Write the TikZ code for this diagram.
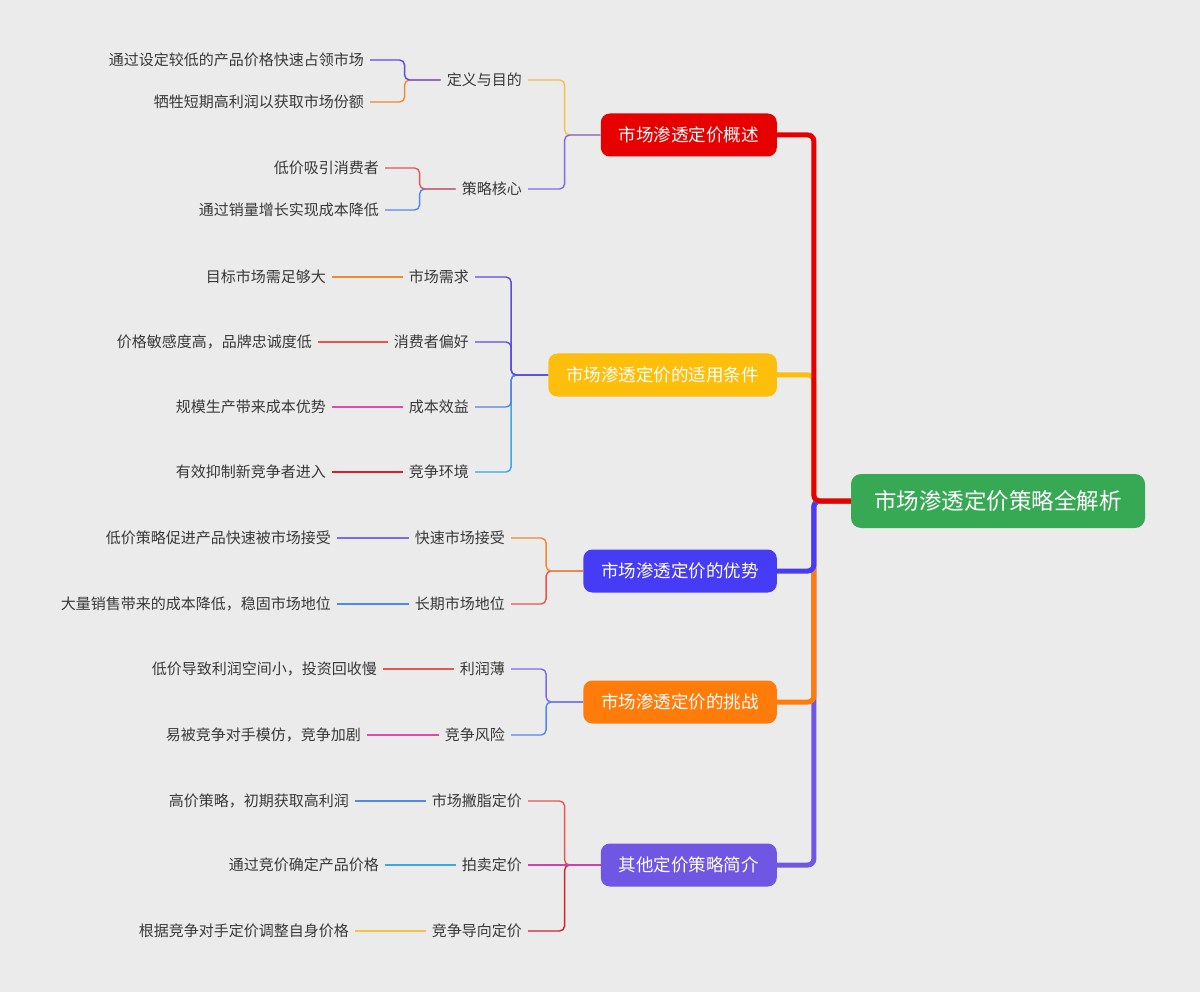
\documentclass[tikz,border=0pt]{standalone}
\usepackage{fontspec}
\setmainfont{Noto Sans CJK SC}
\definecolor{bgc}{HTML}{EBEBEB}
\definecolor{txtc}{HTML}{383838}
\definecolor{rootc}{HTML}{37A955}
\definecolor{redc}{HTML}{E70000}
\definecolor{yelc}{HTML}{FDBE0C}
\definecolor{bluec}{HTML}{473CF5}
\definecolor{orac}{HTML}{FF7C0A}
\definecolor{purc}{HTML}{6F56E3}
\definecolor{lnyel}{HTML}{F5C242}
\definecolor{lnpur}{HTML}{7B6BE8}
\definecolor{lnblu}{HTML}{5B4CE0}
\definecolor{lnora}{HTML}{F08A30}
\definecolor{lnred}{HTML}{EA5450}
\definecolor{lnsky}{HTML}{4F88F0}
\definecolor{lnmid}{HTML}{5A7FE0}
\definecolor{lncyan}{HTML}{3AA8E6}
\definecolor{lnpink}{HTML}{E04AA8}
\definecolor{lnrdk}{HTML}{D41F2A}
\definecolor{lnmag}{HTML}{D040B0}
\tikzset{
  root/.style={rounded corners=10pt, fill=rootc, text=white, font=\fontsize{22.5}{26}\selectfont, minimum width=294pt, minimum height=54pt},
  topic/.style={rounded corners=9pt, text=white, font=\fontsize{17.5}{20}\selectfont, minimum height=43pt, inner xsep=18pt, anchor=east},
  sub/.style={text=txtc, font=\fontsize{15}{18}\selectfont, inner xsep=6pt, inner ysep=2pt, anchor=east},
  trunk/.style={line width=5pt, rounded corners=6pt},
  twig/.style={line width=1.4pt, rounded corners=5pt},
}
\begin{document}
\begin{tikzpicture}[x=1pt, y=-1pt]
\fill[bgc] (0,0) rectangle (1200,992);
\useasboundingbox (0,0) rectangle (1200,992);

\node[root] (root) at (998,501) {市场渗透定价策略全解析};
\node[topic, fill=redc] (t1) at (777,135) {市场渗透定价概述};
\node[topic, fill=yelc] (t2) at (777,375) {市场渗透定价的适用条件};
\node[topic, fill=bluec] (t3) at (777,571) {市场渗透定价的优势};
\node[topic, fill=orac] (t4) at (777,702) {市场渗透定价的挑战};
\node[topic, fill=purc] (t5) at (777,865) {其他定价策略简介};

\draw[trunk, purc] (root.west) -- ++(-37,0) |- (t5.east);
\draw[trunk, orac] (root.west) -- ++(-37,0) |- (t4.east);
\draw[trunk, bluec] (root.west) -- ++(-37,0) |- (t3.east);
\draw[trunk, yelc] (root.west) -- ++(-37,0) |- (t2.east);
\draw[trunk, redc] (root.west) -- ++(-37,0) |- (t1.east);

\node[sub] (s11) at (528,80) {定义与目的};
\node[sub] (s12) at (528,189) {策略核心};
\node[sub] (l111) at (370,60) {通过设定较低的产品价格快速占领市场};
\node[sub] (l112) at (370,102) {牺牲短期高利润以获取市场份额};
\node[sub] (l121) at (385,168) {低价吸引消费者};
\node[sub] (l122) at (385,210) {通过销量增长实现成本降低};
\draw[twig, lnyel] (t1.west) -- ++(-36,0) |- (s11.east);
\draw[twig, lnpur] (t1.west) -- ++(-36,0) |- (s12.east);
\draw[twig, lnora] (s11.west) -- ++(-36,0) |- (l112.east);
\draw[twig, lnblu] (s11.west) -- ++(-36,0) |- (l111.east);
\draw[twig, lnsky] (s12.west) -- ++(-36,0) |- (l122.east);
\draw[twig, lnred] (s12.west) -- ++(-36,0) |- (l121.east);

\node[sub] (s21) at (475,277) {市场需求};
\node[sub] (s22) at (475,342) {消费者偏好};
\node[sub] (s23) at (475,407) {成本效益};
\node[sub] (s24) at (475,472) {竞争环境};
\node[sub] (l21) at (332,277) {目标市场需足够大};
\node[sub] (l22) at (318,342) {价格敏感度高，品牌忠诚度低};
\node[sub] (l23) at (332,407) {规模生产带来成本优势};
\node[sub] (l24) at (332,472) {有效抑制新竞争者进入};
\draw[twig, lncyan] (t2.west) -- ++(-37,0) |- (s24.east);
\draw[twig, lnmid] (t2.west) -- ++(-37,0) |- (s23.east);
\draw[twig, lnblu] (t2.west) -- ++(-37,0) |- (s22.east);
\draw[twig, lnblu] (t2.west) -- ++(-37,0) |- (s21.east);
\draw[twig, lnora] (l21) -- (s21);
\draw[twig, lnred] (l22) -- (s22);
\draw[twig, lnpink] (l23) -- (s23);
\draw[twig, lnrdk] (l24) -- (s24);

\node[sub] (s31) at (511,538) {快速市场接受};
\node[sub] (s32) at (511,604) {长期市场地位};
\node[sub] (l31) at (337,538) {低价策略促进产品快速被市场接受};
\node[sub] (l32) at (337,604) {大量销售带来的成本降低，稳固市场地位};
\draw[twig, lnred] (t3.west) -- ++(-37,0) |- (s32.east);
\draw[twig, lnora] (t3.west) -- ++(-37,0) |- (s31.east);
\draw[twig, lnpur] (l31) -- (s31);
\draw[twig, lnsky] (l32) -- (s32);

\node[sub] (s41) at (511,669) {利润薄};
\node[sub] (s42) at (511,735) {竞争风险};
\node[sub] (l41) at (383,669) {低价导致利润空间小，投资回收慢};
\node[sub] (l42) at (367,735) {易被竞争对手模仿，竞争加剧};
\draw[twig, lnsky] (t4.west) -- ++(-37,0) |- (s42.east);
\draw[twig, lnpur] (t4.west) -- ++(-37,0) |- (s41.east);
\draw[twig, lnred] (l41) -- (s41);
\draw[twig, lnpink] (l42) -- (s42);

\node[sub] (s51) at (528,801) {市场撇脂定价};
\node[sub] (s52) at (528,865) {拍卖定价};
\node[sub] (s53) at (528,931) {竞争导向定价};
\node[sub] (l51) at (355,801) {高价策略，初期获取高利润};
\node[sub] (l52) at (385,865) {通过竞价确定产品价格};
\node[sub] (l53) at (355,931) {根据竞争对手定价调整自身价格};
\draw[twig, lnrdk] (t5.west) -- ++(-36,0) |- (s53.east);
\draw[twig, lnred] (t5.west) -- ++(-36,0) |- (s51.east);
\draw[twig, lnmag] (t5.west) -- (s52.east);
\draw[twig, lnsky] (l51) -- (s51);
\draw[twig, lncyan] (l52) -- (s52);
\draw[twig, lnyel] (l53) -- (s53);
\end{tikzpicture}
\end{document}
